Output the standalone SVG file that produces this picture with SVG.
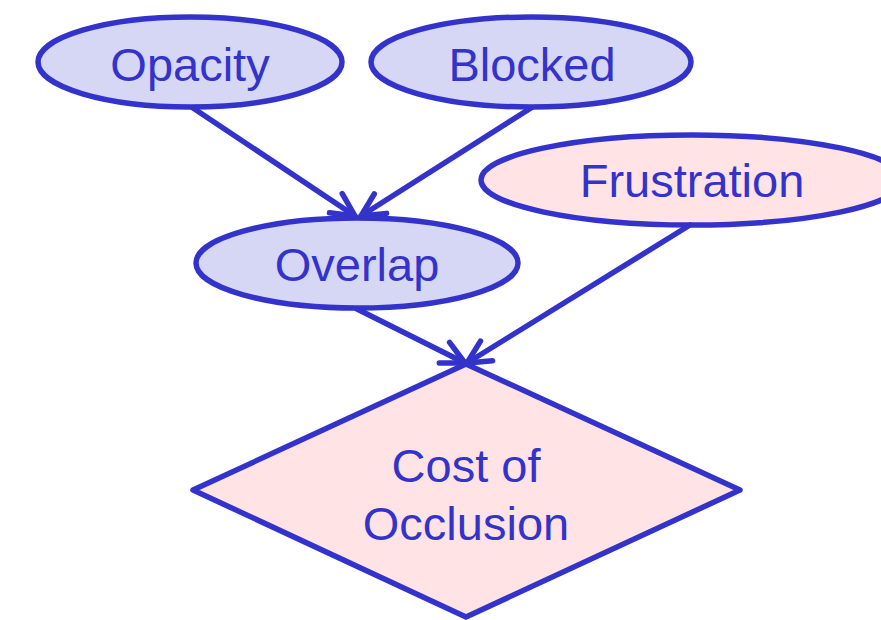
<svg xmlns="http://www.w3.org/2000/svg" width="881" height="620" viewBox="0 0 881 620">
<style>
.n{stroke:#3333cc;stroke-width:5.5;}
.blue{fill:#d6d6f5;}
.pink{fill:#ffe3e5;}
.t{font-family:"Liberation Sans",Arial,sans-serif;font-size:47px;fill:#3333cc;text-anchor:middle;}
.e{stroke:#3333cc;stroke-width:5.5;fill:none;stroke-linecap:round;stroke-linejoin:round;}
</style>
<defs>
<marker id="ah" markerUnits="userSpaceOnUse" markerWidth="40" markerHeight="40" viewBox="-30 -20 40 40" refX="0" refY="0" orient="auto">
<path d="M-23,-11.5 L0,0 L-23,11.5" fill="none" stroke="#3333cc" stroke-width="5.5" stroke-linecap="round" stroke-linejoin="round"/>
</marker>
</defs>
<g id="frustration"><ellipse class="n pink" cx="692" cy="180" rx="211" ry="45"/><text class="t" x="692" y="197">Frustration</text></g>
<g id="connectors">
<path class="e" d="M193,108 L355,216" marker-end="url(#ah)"/>
<path class="e" d="M531,108 L361,216" marker-end="url(#ah)"/>
<path class="e" d="M357,309 L465,363" marker-end="url(#ah)"/>
<path class="e" d="M690,225 L467,363" marker-end="url(#ah)"/>
</g>
<g id="opacity"><ellipse class="n blue" cx="190" cy="62" rx="152" ry="45"/><text class="t" x="190" y="81">Opacity</text></g>
<g id="blocked"><ellipse class="n blue" cx="531" cy="62" rx="160" ry="45"/><text class="t" x="532" y="81">Blocked</text></g>
<g id="overlap"><ellipse class="n blue" cx="357" cy="263" rx="161" ry="45"/><text class="t" x="357" y="281">Overlap</text></g>
<g id="cost"><polygon class="n pink" points="466,364 740,490 466,617 193,490" stroke-linejoin="round"/><text class="t" x="466" y="482">Cost of</text><text class="t" x="466" y="540">Occlusion</text></g>
</svg>
